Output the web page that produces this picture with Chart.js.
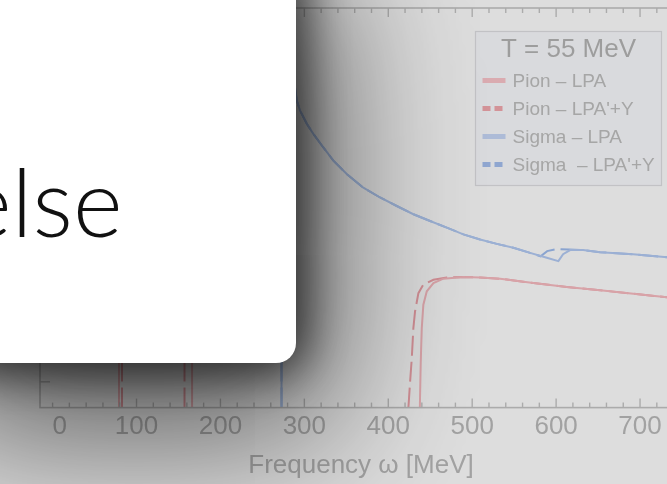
<!DOCTYPE html>
<html>
<head>
<meta charset="utf-8">
<script src="https://cdn.jsdelivr.net/npm/chart.js@4.4.1/dist/chart.umd.min.js"></script>
<style>
  html, body { margin: 0; padding: 0; width: 667px; height: 484px; overflow: hidden; background: #fff; }
  #wrap { position: absolute; left: 0; top: 0; width: 700px; height: 484px; }
  #overlay { position: absolute; left: 0; top: 0; width: 667px; height: 484px; background: rgba(0,0,0,0.135); }
  #card { position: absolute; left: -40px; top: -40px; width: 336px; height: 403px; background: #fff;
          border-radius: 20px;
          box-shadow: 0 0 45px 10px rgba(0,0,0,0.66), 6px 40px 150px 28px rgba(0,0,0,0.64); }
  #card span { position: absolute; left: 2px; top: 193px; font-family: Lato, sans-serif; font-weight: 300;
               font-size: 95px; line-height: 1; color: #111; white-space: nowrap; }
</style>
</head>
<body>
<div id="wrap"><canvas id="c" width="700" height="484"></canvas></div>
<div id="overlay"></div>
<div id="card"><span>else</span></div>
<script>
// ---- data (omega in MeV, spectral value in arbitrary units) ----
const legendTitle = 'T = 55 MeV';
const xTickValues = [0, 100, 200, 300, 400, 500, 600, 700];

const pionLpaOmega = [79.1, 79.1, 120, 166.2, 166.2, 300, 437.6, 438.7, 439.9, 441.8, 445.9, 453.8, 465.7, 489.5, 509.4, 533.3, 572.9, 612.8, 652.5, 692.1, 731.9, 750];
const pionLpaValue = [0, 40, null, 0, 40, null, 0, 1.78, 3.08, 3.99, 4.51, 4.83, 5.00, 5.07, 5.05, 5.00, 4.83, 4.68, 4.55, 4.42, 4.28, 4.22];

const pionLpaYOmega = [82.7, 82.7, 120, 157.2, 157.2, 300, 424.0, 426.0, 428.0, 429.9, 431.9, 435.9, 441.8, 453.8, 469.7, 489.5, 509.4, 533.3, 572.9, 612.8, 652.5, 692.1, 731.9, 750];
const pionLpaYValue = [0, 40, null, 0, 40, null, 0, 1.00, 1.91, 3.08, 3.73, 4.44, 4.77, 4.96, 5.05, 5.07, 5.05, 5.00, 4.83, 4.68, 4.55, 4.42, 4.28, 4.22];

const sigmaLpaOmega = [272.8, 272.8, 276, 281, 286, 291.0, 294.9, 302.9, 310.7, 322.6, 334.6, 350.5, 370.3, 390.2, 410.1, 429.9, 449.8, 469.7, 489.5, 509.4, 529.3, 549.1, 569.0, 588.9, 602.7, 608.3, 616.7, 632.2, 652.4, 691.8, 732.3, 750];
const sigmaLpaValue = [0, 40, 18.5, 15.2, 13.1, 11.91, 11.52, 11.01, 10.62, 10.09, 9.58, 9.06, 8.53, 8.15, 7.82, 7.50, 7.24, 6.98, 6.72, 6.52, 6.35, 6.20, 6.00, 5.81, 5.68, 5.95, 6.11, 6.11, 6.03, 5.95, 5.83, 5.80];

const sigmaLpaYOmega = [272.8, 272.8, 276, 281, 286, 291.0, 294.9, 302.9, 310.7, 322.6, 334.6, 350.5, 370.3, 390.2, 410.1, 429.9, 449.8, 469.7, 489.5, 509.4, 529.3, 549.1, 569.0, 581.5, 589.3, 601.2, 615.5, 632.2, 652.4, 691.8, 732.3, 750];
const sigmaLpaYValue = [0, 40, 18.5, 15.2, 13.1, 11.91, 11.52, 11.01, 10.62, 10.09, 9.58, 9.06, 8.53, 8.15, 7.82, 7.50, 7.24, 6.98, 6.72, 6.52, 6.35, 6.20, 6.00, 5.87, 6.07, 6.15, 6.13, 6.11, 6.03, 5.95, 5.83, 5.80];

function pts(xs, ys) { return xs.map((x, i) => ({ x: x, y: ys[i] })); }

const AXIS = '#c6c6c6';
const TEXT = '#bbbbbb';
const FONT = "'Liberation Sans', Arial, sans-serif";

const framePlugin = {
  id: 'frame',
  afterDatasetsDraw(chart) {
    const { ctx, chartArea: a, scales } = chart;
    const xs = scales.x, ys = scales.y;
    ctx.save();
    ctx.strokeStyle = AXIS;
    ctx.lineWidth = 1.6;
    ctx.strokeRect(a.left, a.top, a.right - a.left, a.bottom - a.top);
    ctx.lineWidth = 1.4;
    const seg = (x1, y1, x2, y2) => { ctx.beginPath(); ctx.moveTo(x1, y1); ctx.lineTo(x2, y2); ctx.stroke(); };
    for (let v = 0; v <= xs.max; v += 20) {
      const px = xs.getPixelForValue(v);
      const len = (v % 100 === 0 && v !== 0) ? 9 : 5;
      seg(px, a.bottom, px, a.bottom - len);
      seg(px, a.top, px, a.top + len);
    }
    for (let v = 1; v < ys.max; v += 1) {
      const py = ys.getPixelForValue(v);
      seg(a.left, py, a.left + 10, py);
      seg(a.right, py, a.right - 10, py);
    }
    ctx.restore();
  }
};

const legendPlugin = {
  id: 'boxLegend',
  afterDraw(chart) {
    const { ctx } = chart;
    const bx = 475.5, by = 31.5, bw = 186, bh = 154;
    ctx.save();
    ctx.fillStyle = 'rgb(251,252,255)';
    ctx.strokeStyle = '#e0e0e4';
    ctx.lineWidth = 1.2;
    ctx.fillRect(bx, by, bw, bh);
    ctx.strokeRect(bx, by, bw, bh);
    ctx.fillStyle = '#b6b6b6';
    ctx.font = '26px ' + FONT;
    ctx.textAlign = 'center';
    ctx.textBaseline = 'middle';
    ctx.fillText(legendTitle, bx + bw / 2, by + 18);
    ctx.font = '19px ' + FONT;
    ctx.textAlign = 'left';
    chart.data.datasets.forEach((ds, i) => {
      const yy = by + 49 + i * 28;
      ctx.strokeStyle = ds.legendColor;
      ctx.lineWidth = 5;
      ctx.setLineDash(ds.borderDash && ds.borderDash.length ? [8, 4] : []);
      ctx.beginPath(); ctx.moveTo(bx + 7, yy); ctx.lineTo(bx + 30, yy); ctx.stroke();
      ctx.setLineDash([]);
      ctx.fillStyle = '#c0c0c0';
      ctx.fillText(ds.label, bx + 37, yy + 1);
    });
    ctx.restore();
  }
};

new Chart(document.getElementById('c'), {
  type: 'line',
  data: {
    datasets: [
      { label: 'Pion \u2013 LPA', data: pts(pionLpaOmega, pionLpaValue), borderColor: 'rgb(250,188,194)', legendColor: 'rgb(252,198,204)', borderWidth: 2 },
      { label: "Pion \u2013 LPA'+Y", data: pts(pionLpaYOmega, pionLpaYValue), borderColor: 'rgb(242,165,172)', legendColor: 'rgb(244,170,176)', borderWidth: 2, borderDash: [20, 6] },
      { label: 'Sigma \u2013 LPA', data: pts(sigmaLpaOmega, sigmaLpaValue), borderColor: 'rgb(180,204,245)', legendColor: 'rgb(200,216,248)', borderWidth: 2 },
      { label: "Sigma  \u2013 LPA'+Y", data: pts(sigmaLpaYOmega, sigmaLpaYValue), borderColor: 'rgb(160,190,240)', legendColor: 'rgb(165,192,240)', borderWidth: 2, borderDash: [20, 6] }
    ]
  },
  options: {
    responsive: false,
    animation: false,
    devicePixelRatio: 1,
    layout: { padding: { top: 8, left: 40, right: 18, bottom: 0 } },
    elements: { point: { radius: 0 }, line: { tension: 0 } },
    plugins: { legend: { display: false }, tooltip: { enabled: false } },
    scales: {
      x: {
        type: 'linear', min: -15, max: 750,
        grid: { display: false, drawTicks: false },
        border: { display: false },
        afterBuildTicks: (s) => { s.ticks = xTickValues.map(v => ({ value: v })); },
        ticks: { font: { family: FONT, size: 26 }, color: TEXT, padding: 4, autoSkip: false, maxRotation: 0,
                 callback: (v) => v === 0 ? '  0' : String(v) },
        title: { display: true, text: 'Frequency \u03c9 [MeV]', font: { family: FONT, size: 26 }, color: TEXT,
                 padding: { top: 3, bottom: 3 } }
      },
      y: { type: 'linear', min: 0, max: 15.5, display: false }
    }
  },
  plugins: [framePlugin, legendPlugin]
});
</script>
</body>
</html>
